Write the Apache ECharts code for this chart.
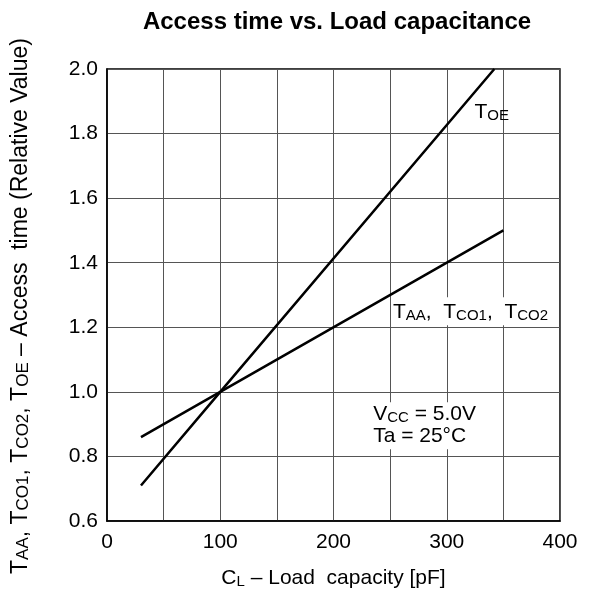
<!DOCTYPE html>
<html>
<head>
<meta charset="utf-8">
<script src="https://cdn.jsdelivr.net/npm/echarts@6/dist/echarts.min.js"></script>
<style>
  html, body { margin: 0; padding: 0; background: #fff; }
  #chart { width: 596px; height: 591px; }
</style>
</head>
<body>
<div id="chart"></div>
<script>
// load capacity [pF] and relative access time
var toeData = [[30, 0.71], [100, 1.0], [342, 2.0]];
var taaData = [[30, 0.86], [100, 1.0], [350, 1.5]];
var xTicks = [0, 100, 200, 300, 400];
var yTicks = [0.6, 0.8, 1.0, 1.2, 1.4, 1.6, 1.8, 2.0];

var chart = echarts.init(document.getElementById('chart'));
var font = 'Liberation Sans, Arial, sans-serif';

// subscripts are drawn as smaller caps on the same baseline
var rich = {
    b: { fontSize: 21, fontFamily: font, color: '#000', verticalAlign: 'bottom', lineHeight: 24 },
    s: { fontSize: 15, fontFamily: font, color: '#000', verticalAlign: 'bottom', lineHeight: 21 }
};
var richBig = {
    b: { fontSize: 23, fontFamily: font, color: '#000', verticalAlign: 'bottom', lineHeight: 26 },
    s: { fontSize: 17, fontFamily: font, color: '#000', verticalAlign: 'bottom', lineHeight: 23 }
};

var option = {
    animation: false,
    backgroundColor: '#fff',
    title: {
        text: 'Access time vs. Load capacitance',
        left: 332,
        textAlign: 'center',
        top: 5,
        textStyle: { fontFamily: font, fontWeight: 'bold', fontSize: 24, color: '#000' }
    },
    grid: {
        left: 107, right: 36, top: 69, bottom: 70,
        outerBoundsMode: 'none',
        show: true, borderColor: '#000', borderWidth: 1.5, backgroundColor: '#fff'
    },
    xAxis: {
        type: 'value', min: 0, max: 400, interval: 50,
        name: '{b|C}{s|L}{b| – Load  capacity [pF]}',
        nameLocation: 'middle', nameGap: 44,
        nameTextStyle: { rich: rich },
        axisLine: { lineStyle: { color: '#000', width: 1.5 } },
        axisTick: { show: false },
        axisLabel: {
            margin: 11, fontSize: 21, fontFamily: font, color: '#000',
            formatter: function (v) { return xTicks.indexOf(v) >= 0 ? String(v) : ''; }
        },
        splitLine: { lineStyle: { color: '#555', width: 1 } }
    },
    yAxis: {
        type: 'value', min: 0.6, max: 2.0, interval: 0.2,
        name: '{b|T}{s|AA}{b|, T}{s|CO1}{b|, T}{s|CO2}{b|, T}{s|OE}{b| – Access  time (Relative Value)}',
        nameLocation: 'middle', nameRotate: 90, nameGap: 75,
        nameTextStyle: { rich: richBig, padding: [0, 22, 0, 0] },
        axisLine: { lineStyle: { color: '#000', width: 1.5 } },
        axisTick: { show: false },
        axisLabel: {
            margin: 9, fontSize: 21, fontFamily: font, color: '#000',
            formatter: function (v) { return v.toFixed(1); }
        },
        splitLine: { lineStyle: { color: '#555', width: 1 } }
    },
    series: [
        {
            name: 'TOE', type: 'line', data: toeData, symbol: 'none',
            lineStyle: { color: '#000', width: 2.5 },
            markPoint: {
                symbol: 'rect', symbolSize: 1, itemStyle: { color: 'transparent' },
                label: { show: true, position: 'right', distance: 0, rich: rich,
                    formatter: '{b|T}{s|OE}' },
                data: [{ coord: [324, 1.87] }]
            }
        },
        {
            name: 'TAA', type: 'line', data: taaData, symbol: 'none',
            lineStyle: { color: '#000', width: 2.5 },
            markPoint: {
                symbol: 'rect', symbolSize: 1, itemStyle: { color: 'transparent' },
                label: { show: true, position: 'right', distance: 0, rich: rich,
                    backgroundColor: '#fff', padding: [2, 4, 2, 0],
                    formatter: '{b|T}{s|AA}{b|,  T}{s|CO1}{b|,  T}{s|CO2}' },
                data: [{ coord: [252, 1.25] }]
            }
        }
    ]
};
chart.setOption(option);

// operating conditions note, anchored to data coordinates
var notePos = chart.convertToPixel('grid', [235, 0.90]);
chart.setOption({
    graphic: [{
        type: 'text', left: notePos[0], top: notePos[1] - 22,
        style: {
            text: '{b|V}{s|CC}{b| = 5.0V}\n{b|Ta = 25°C}',
            rich: {
                b: { fontSize: 21, fontFamily: font, fill: '#000', verticalAlign: 'bottom', lineHeight: 22 },
                s: { fontSize: 15, fontFamily: font, fill: '#000', verticalAlign: 'bottom', lineHeight: 19 }
            },
            backgroundColor: '#fff', padding: [1, 4, 2, 0]
        },
        z: 10
    }]
});
</script>
</body>
</html>
